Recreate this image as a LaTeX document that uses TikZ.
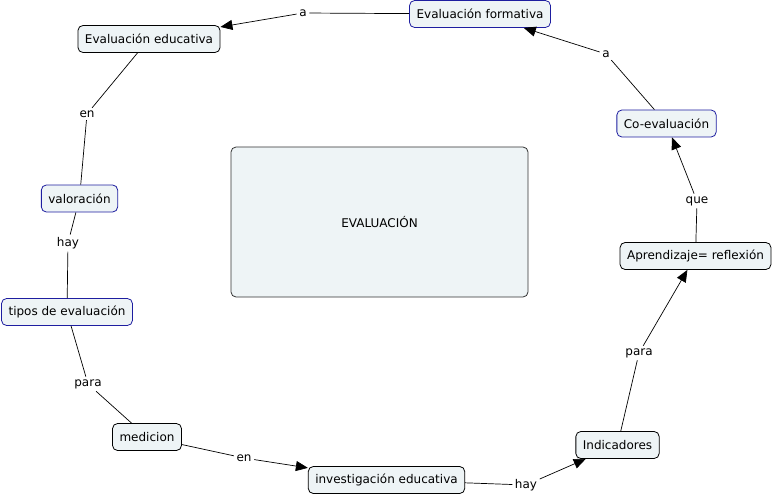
\documentclass[tikz,border=0pt]{standalone}
\usepackage{fontspec}
\setmainfont{DejaVu Sans}
\usepackage{tikz}
\usetikzlibrary{arrows.meta,positioning,shapes,calc}
\definecolor{cfill}{RGB}{238,244,246}
\definecolor{cblue}{RGB}{30,30,160}
\definecolor{cgray}{RGB}{50,50,50}

\tikzset{
  concept/.style={draw=black, fill=cfill, rounded corners=5pt, line width=0.8pt,
    inner xsep=7pt, minimum height=27pt, font=\fontsize{12}{14}\selectfont},
  bconcept/.style={concept, draw=cblue},
  link/.style={inner sep=2.5pt, font=\fontsize{12}{14}\selectfont},
  conn/.style={line width=0.7pt},
  arr/.style={conn, -{Triangle[length=12pt,width=10pt]}}
}

\begin{document}
\begin{tikzpicture}[x=1pt,y=-1pt]
        \useasboundingbox (0,0) rectangle (775,497);
        \node[concept, draw=cgray, minimum width=297pt, minimum height=150pt] (eval) at (379.5,222) {EVALUACIÓN};
        \node[concept] (educ) at (149,39) {Evaluación educativa};
        \node[bconcept] (form) at (480,14) {Evaluación formativa};
        \node[bconcept] (coev) at (666.5,123.5) {Co-evaluación};
        \node[concept] (apre) at (695.5,256) {Aprendizaje= reflexión};
        \node[concept] (indi) at (617.5,445) {Indicadores};
        \node[concept] (inve) at (386.5,480) {investigación educativa};
        \node[concept] (medi) at (147,437) {medicion};
        \node[bconcept] (tipo) at (67,312) {tipos de evaluación};
        \node[bconcept] (valo) at (79.5,198.5) {valoración};
        % link labels
        \node[link] (l1) at (303,13) {a};
        \node[link] (l2) at (606,54) {a};
        \node[link] (l3) at (697,201) {que};
        \node[link] (l4) at (639,353) {para};
        \node[link] (l5) at (526,485) {hay};
        \node[link] (l6) at (244,458) {en};
        \node[link] (l7) at (88,384) {para};
        \node[link] (l8) at (68,243) {hay};
        \node[link] (l9) at (87,114) {en};
        % connectors
        \draw[conn] (form) -- (l1);
        \draw[arr] (l1) -- (educ);
        \draw[conn] (coev) -- (l2);
        \draw[arr] (l2) -- (form);
        \draw[conn] (apre) -- (l3);
        \draw[arr] (l3) -- (coev);
        \draw[conn] (indi) -- (l4);
        \draw[arr] (l4) -- (apre);
        \draw[conn] (inve) -- (l5);
        \draw[arr] (l5) -- (indi);
        \draw[conn] (medi) -- (l6);
        \draw[arr] (l6) -- (inve);
        \draw[conn] (tipo) -- (l7);
        \draw[conn] (l7) -- (medi);
        \draw[conn] (valo) -- (l8);
        \draw[conn] (l8) -- (tipo);
        \draw[conn] (educ) -- (l9);
        \draw[conn] (l9) -- (valo);
\end{tikzpicture}
\end{document}
